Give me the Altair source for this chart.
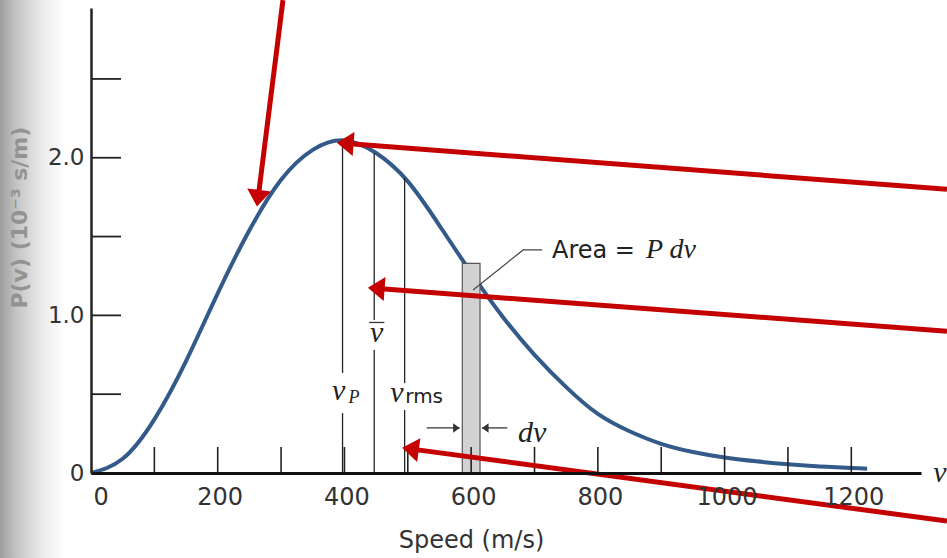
import math
import altair as alt
import pandas as pd

# ---------------- data ----------------
speed = [0, 50, 100, 150, 200, 250, 300, 350, 400, 450, 500, 550, 600, 650,
         700, 750, 800, 850, 900, 950, 1000, 1050, 1100, 1150, 1200, 1225]
prob = [0, 0.09, 0.34, 0.71, 1.14, 1.54, 1.86, 2.05, 2.11, 2.03, 1.85, 1.57,
        1.27, 0.99, 0.75, 0.545, 0.375, 0.265, 0.185, 0.133, 0.098, 0.074, 0.056,
        0.042, 0.031, 0.027]

x_tick_values = [100, 200, 300, 400, 500, 600, 700, 800, 900, 1000, 1100, 1200]
x_label_values = [0, 200, 400, 600, 800, 1000, 1200]
y_tick_values = [0.5, 1.0, 1.5, 2.0, 2.5]
y_label_values = [0, 1, 2]

# characteristic speeds: v_p, v_mean, v_rms (line segments with gaps for labels)
char_speed = [397, 397, 447, 447, 495, 495]
char_top = [2.11, 0.38, 2.03, 0.78, 1.87, 0.40]
char_bot = [0.635, 0.0, 0.97, 0.0, 0.57, 0.0]

# area strip P dv
strip_v0, strip_v1, strip_p = 586, 614, 1.33

# leader line from the strip to the "Area" label
leader_v = [603, 682, 712]
leader_p = [1.161, 1.415, 1.415]

# red annotation arrows: start -> tip
arrow_v0 = [303, 1351, 1351, 1351]
arrow_p0 = [3.0, 1.80, 0.90, -0.305]
arrow_v1 = [262, 388, 437, 491]
arrow_p1 = [1.69, 2.095, 1.175, 0.16]

# dv arrows
dv_left = [530, 582]
dv_right = [657, 617]
dv_p = 0.286

# ---------------- geometry ----------------
W, H = 830, 465
XMAX, YMAX = 1310, 2.95
PXX, PXY = W / XMAX, H / YMAX

xs = alt.Scale(domain=[0, XMAX], nice=False, zero=False)
ys = alt.Scale(domain=[0, YMAX], nice=False, zero=False)

x_axis = alt.Axis(values=x_label_values, format="d", ticks=False, grid=False, zindex=1,
                  labelFont="DejaVu Sans", labelFontSize=24, labelColor="#333333",
                  labelPadding=12, labelOffset=2, labelOverlap=False,
                  domainColor="#111111", domainWidth=3,
                  title="Speed (m/s)", titleFont="DejaVu Sans", titleFontSize=24,
                  titleFontWeight="normal", titleColor="#333333",
                  titleX=380, titleY=55, titleAlign="center", titleBaseline="top")
y_axis = alt.Axis(values=y_label_values, ticks=False, grid=False, zindex=1,
                  labelExpr="datum.value == 0 ? '0' : format(datum.value, '.1f')",
                  labelFont="DejaVu Sans", labelFontSize=23, labelColor="#333333",
                  labelPadding=7, domainColor="#222222", domainWidth=2.5, title=None)


def X(f="v"):
    return alt.X(f, type="quantitative", scale=xs, axis=x_axis)


def Y(f="p"):
    return alt.Y(f, type="quantitative", scale=ys, axis=y_axis)


def X2(f):
    return alt.X2(f)


def Y2(f):
    return alt.Y2(f)


# shadow of book binding (scan)
shadow = alt.Chart(pd.DataFrame({"v": [-144], "v2": [-40], "p": [-0.6], "p2": [3.05]})).mark_rect(
    fill=alt.Gradient(gradient="linear", x1=0, x2=1, y1=0, y2=0,
                      stops=[alt.GradientStop(offset=0, color="#9c9c9c"),
                             alt.GradientStop(offset=0.25, color="#c4c4c4"),
                             alt.GradientStop(offset=0.65, color="#ececec"),
                             alt.GradientStop(offset=1, color="#ffffff")])
).encode(x=X("v"), x2=X2("v2"), y=Y("p"), y2=Y2("p2"))

# main curve
curve_df = pd.DataFrame({"v": speed, "p": prob})
curve = alt.Chart(curve_df).mark_line(color="#335a88", strokeWidth=4, interpolate="natural").encode(
    x=X("v"), y=Y("p"))

strip = alt.Chart(pd.DataFrame({"v": [strip_v0], "v2": [strip_v1], "p": [0], "p2": [strip_p]})).mark_rect(
    fill="#d2d2d2", stroke="#555555", strokeWidth=1.2
).encode(x=X("v"), x2=X2("v2"), y=Y("p"), y2=Y2("p2"))

xt = alt.Chart(pd.DataFrame({"v": x_tick_values, "p": 0.0, "p2": 26 / PXY})).mark_rule(
    color="#222222", strokeWidth=1.6).encode(x=X("v"), y=Y("p"), y2=Y2("p2"))
yt = alt.Chart(pd.DataFrame({"p": y_tick_values, "v": 0.0, "v2": 30 / PXX})).mark_rule(
    color="#222222", strokeWidth=1.8).encode(y=Y("p"), x=X("v"), x2=X2("v2"))

vlines = alt.Chart(pd.DataFrame({"v": char_speed, "p": char_top, "p2": char_bot})).mark_rule(
    color="#222222", strokeWidth=1.3).encode(x=X("v"), y=Y("p"), y2=Y2("p2"))

overline = alt.Chart(pd.DataFrame({"v": [439], "v2": [463], "p": [0.955]})).mark_rule(
    color="#333333", strokeWidth=1.3).encode(x=X("v"), x2=X2("v2"), y=Y("p"))

leader = alt.Chart(pd.DataFrame({"v": leader_v, "p": leader_p, "o": [0, 1, 2]})).mark_line(
    color="#444444", strokeWidth=1.2).encode(x=X("v"), y=Y("p"), order="o:Q")

# dv arrows
dv_lines = alt.Chart(pd.DataFrame({"v": [dv_left[0], dv_right[0]], "v2": [dv_left[1], dv_right[1]],
                                   "p": [dv_p, dv_p]})).mark_rule(color="#333333", strokeWidth=1.3).encode(
    x=X("v"), x2=X2("v2"), y=Y("p"))
head_path = "M0,0L1,1.4L-1,1.4Z"
dv_heads = alt.Chart(pd.DataFrame({"v": [dv_left[1], dv_right[1]], "p": [dv_p, dv_p], "a": [90, 270]})).mark_point(
    shape=head_path, filled=True, color="#333333", opacity=1, size=90).encode(
    x=X("v"), y=Y("p"), angle=alt.Angle("a:Q", scale=None))


# text annotations
def text_layer(rows, **kw):
    df = pd.DataFrame(rows, columns=["v", "p", "t"])
    return alt.Chart(df).mark_text(**kw).encode(x=X("v"), y=Y("p"), text="t:N")


t_v = text_layer([[391, 0.463, "v"], [451, 0.831, "v"], [483, 0.45, "v"], [1340, -0.057, "v"]],
                 font="Liberation Serif", fontStyle="italic", fontSize=30, color="#222222",
                 align="center", baseline="alphabetic")
t_sub = text_layer([[415, 0.444, "P"]], font="Liberation Serif", fontStyle="italic", fontSize=18,
                   color="#222222", align="center", baseline="alphabetic")
t_rms = text_layer([[496, 0.444, "rms"]], font="DejaVu Sans", fontSize=20, color="#222222",
                   align="left", baseline="alphabetic")
t_area = text_layer([[727.6, 1.364, "Area ="]], font="DejaVu Sans", fontSize=24, color="#222222",
                    align="left", baseline="alphabetic")
t_pdv = text_layer([[876, 1.364, "P dv"]], font="Liberation Serif", fontStyle="italic", fontSize=28,
                   color="#222222", align="left", baseline="alphabetic")
t_dv = text_layer([[674, 0.197, "dv"]], font="Liberation Serif", fontStyle="italic", fontSize=30,
                  color="#222222", align="left", baseline="alphabetic")
t_ytitle = text_layer([[-112, 1.62, "P(v) (10⁻³ s/m)"]], font="DejaVu Sans", fontWeight="bold",
                      fontSize=22, color="#939393", align="center", baseline="middle", angle=270)

# red arrows
line_rows, head_rows = [], []
for i in range(len(arrow_v0)):
    dx = (arrow_v1[i] - arrow_v0[i]) * PXX
    dy = -(arrow_p1[i] - arrow_p0[i]) * PXY
    L = math.hypot(dx, dy)
    ux, uy = dx / L, dy / L
    back = 10.0
    end_v = arrow_v1[i] - ux * back / PXX
    end_p = arrow_p1[i] + uy * back / PXY
    line_rows.append([arrow_v0[i], arrow_p0[i], end_v, end_p])
    ang = math.degrees(math.atan2(dx, -dy)) % 360
    head_rows.append([arrow_v1[i], arrow_p1[i], ang])

red_lines = alt.Chart(pd.DataFrame(line_rows, columns=["v", "p", "v2", "p2"])).mark_rule(
    color="#c40000", strokeWidth=5).encode(x=X("v"), y=Y("p"), x2=X2("v2"), y2=Y2("p2"))
red_heads = alt.Chart(pd.DataFrame(head_rows, columns=["v", "p", "a"])).mark_point(
    shape=head_path, filled=True, color="#c40000", opacity=1, size=576).encode(
    x=X("v"), y=Y("p"), angle=alt.Angle("a:Q", scale=None))

chart = alt.layer(
    shadow, curve, strip, xt, yt, vlines, overline, leader, dv_lines, dv_heads,
    t_v, t_sub, t_rms, t_area, t_pdv, t_dv, t_ytitle, red_lines, red_heads
).properties(
    width=W, height=H,
    autosize=alt.AutoSizeParams(type="none"),
    padding={"left": 91, "top": 8, "right": 26, "bottom": 85},
    background="white",
).configure_view(stroke=None)

chart.save("out.html", embed_options={"renderer": "svg", "actions": False})
